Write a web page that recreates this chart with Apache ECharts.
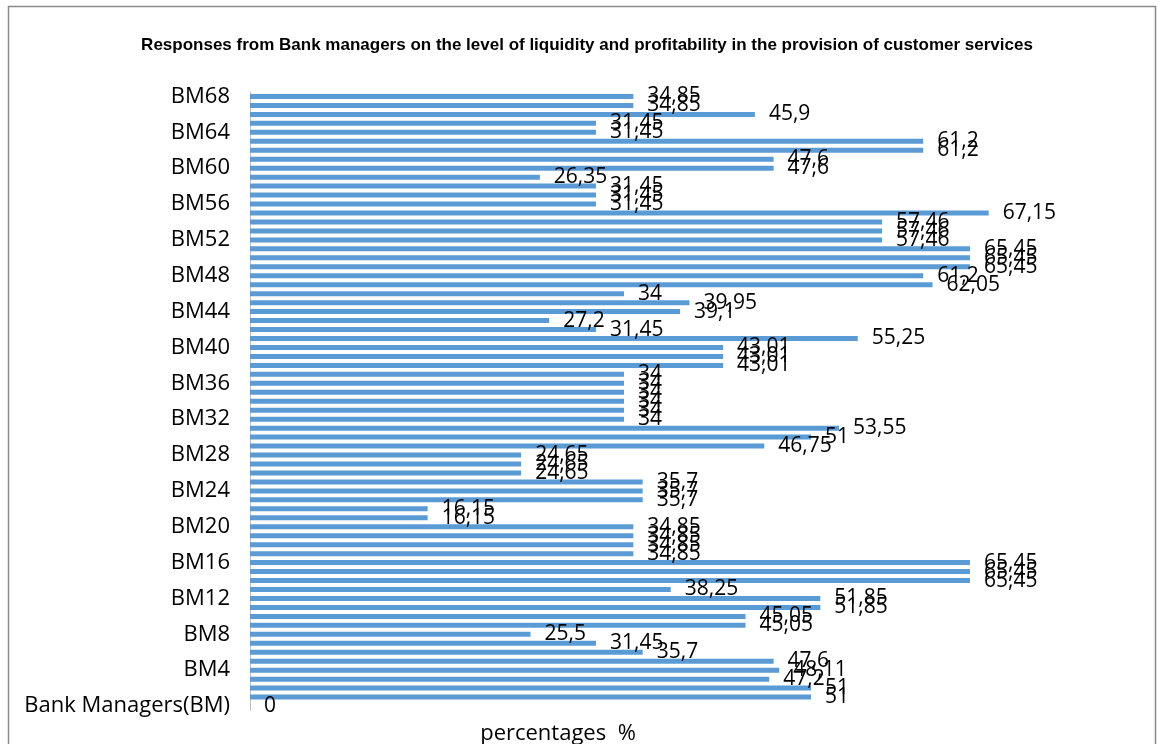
<!DOCTYPE html>
<html>
<head>
<meta charset="utf-8">
<script src="https://cdn.jsdelivr.net/npm/echarts@6/dist/echarts.min.js"></script>
<style>
html,body{margin:0;padding:0;background:#fff;}
#chart{width:1163px;height:744px;}
</style>
</head>
<body>
<div id="chart"></div>
<script>
// Categories: first is the header row "Bank Managers(BM)", then BM1..BM68
const categories = ["Bank Managers(BM)"];
for (let i = 1; i <= 68; i++) categories.push("BM" + i);

// Values (percentages), first entry is the header row (0), then BM1..BM68
const values = [
  0,
  51, 51, 47.2, 48.11, 47.6, 35.7, 31.45, 25.5, 45.05, 45.05,
  51.85, 51.85, 38.25, 65.45, 65.45, 65.45, 34.85, 34.85, 34.85, 34.85,
  16.15, 16.15, 35.7, 35.7, 35.7, 24.65, 24.65, 24.65, 46.75, 51,
  53.55, 34, 34, 34, 34, 34, 34, 43.01, 43.01, 43.01,
  55.25, 31.45, 27.2, 39.1, 39.95, 34, 62.05, 61.2, 65.45, 65.45,
  65.45, 57.46, 57.46, 57.46, 67.15, 31.45, 31.45, 31.45, 26.35, 47.6,
  47.6, 61.2, 61.2, 31.45, 31.45, 45.9, 34.85, 34.85
];

const titleText = "Responses from Bank managers on the level of liquidity and profitability in the provision of customer services";
const xAxisTitle = "percentages  %";

const chart = echarts.init(document.getElementById('chart'), null, {renderer: 'canvas'});
chart.setOption({
  animation: false,
  backgroundColor: '#ffffff',
  title: [
    {
      text: titleText,
      left: 582, top: 32, textAlign: 'center',
      textStyle: {fontFamily: 'Liberation Sans', fontWeight: 'bold', fontSize: 17, color: '#000'}
    },
    {
      text: xAxisTitle,
      left: 553, top: 718, textAlign: 'center',
      textStyle: {fontFamily: 'Open Sans', fontWeight: 'normal', fontSize: 22, color: '#000'}
    }
  ],
  graphic: [{
    type: 'rect',
    shape: {x: 8.5, y: 6.5, width: 1147, height: 760},
    style: {fill: 'none', stroke: '#8a8a8a', lineWidth: 1.5},
    silent: true
  }],
  grid: {left: 250, right: 33, top: 92, bottom: 33.5, containLabel: false},
  xAxis: {
    type: 'value', min: 0, max: 80,
    show: true,
    axisLine: {show: false}, axisTick: {show: false},
    axisLabel: {show: false}, splitLine: {show: false}
  },
  yAxis: {
    type: 'category',
    data: categories,
    axisLine: {show: true, lineStyle: {color: '#bfbfbf', width: 1}},
    axisTick: {show: false},
    axisLabel: {
      interval: 3,
      margin: 20,
      fontFamily: 'Open Sans', fontSize: 22, color: '#000'
    }
  },
  series: [{
    type: 'bar',
    data: values,
    barWidth: 5,
    itemStyle: {color: '#5B9BD5'},
    label: {
      show: true,
      position: 'right',
      distance: 14,
      offset: [0, 3],
      fontFamily: 'Open Sans', fontSize: 21, color: '#000',
      formatter: p => String(p.value).replace('.', ',')
    },
    labelLayout: {hideOverlap: false}
  }]
});
</script>
</body>
</html>
